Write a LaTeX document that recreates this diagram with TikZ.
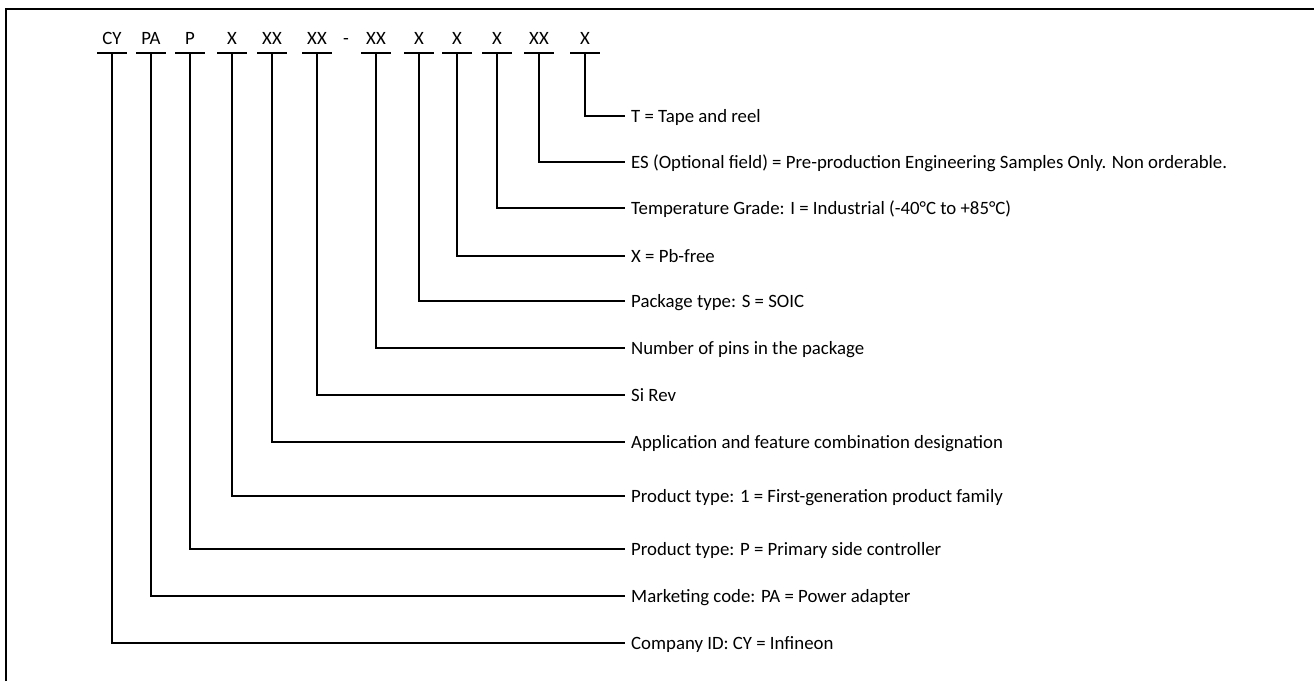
\documentclass[tikz,border=0pt]{standalone}
\usepackage{fontspec}
\setmainfont{Carlito}
\usetikzlibrary{positioning}

\begin{document}
\begin{tikzpicture}[
      x=1pt, y=-1pt,
      code/.style={anchor=south, font=\fontsize{18.8}{21}\selectfont, minimum width=29pt,
                   inner xsep=0pt, inner ysep=8pt, text depth=0pt},
      desc/.style={anchor=west, font=\fontsize{18.8}{21}\selectfont, inner xsep=6pt,
                   inner ysep=0pt, text height=12pt, text depth=0pt},
      lead/.style={line width=1.3pt},
      uline/.style={line width=1.3pt},
      frame/.style={line width=1.6pt}
    ]
    \useasboundingbox (0,0) rectangle (1314,681);
    \draw[frame] (6,681) -- (6,9) -- (1314,9);

    % part number fields
    \node[code] (cy)  at (112,53) {CY};
    \node[code] (pa)  at (151,53) {PA};
    \node[code] (p)   at (190,53) {P};
    \node[code] (gen) at (232,53) {X};
    \node[code] (app) at (272,53) {XX};
    \node[code] (rev) at (317,53) {XX};
    \node[code, minimum width=0pt] (sep) at (346,53) {-};
    \node[code] (pins) at (376,53) {XX};
    \node[code] (pkg) at (419,53) {X};
    \node[code] (pb)  at (457,53) {X};
    \node[code] (tmp) at (497,53) {X};
    \node[code] (es)  at (539,53) {XX};
    \node[code] (tr)  at (585,53) {X};
    \foreach \n in {cy,pa,p,gen,app,rev,pins,pkg,pb,tmp,es,tr}
      \draw[uline] (\n.south west) -- (\n.south east);

    % descriptions
    \node[desc] (dtr)   at (625,116) {T = Tape and reel};
    \node[desc] (des)   at (625,162) {ES (Optional field) = Pre-production Engineering Samples Only. Non orderable.};
    \node[desc] (dtmp)  at (625,208) {Temperature Grade: I = Industrial (-40°C to +85°C)};
    \node[desc] (dpb)   at (625,256) {X = Pb-free};
    \node[desc] (dpkg)  at (625,301) {Package type: S = SOIC};
    \node[desc] (dpins) at (625,348) {Number of pins in the package};
    \node[desc] (drev)  at (625,395) {Si Rev};
    \node[desc] (dapp)  at (625,442) {Application and feature combination designation};
    \node[desc] (dgen)  at (625,496) {Product type: 1 = First-generation product family};
    \node[desc] (dp)    at (625,549) {Product type: P = Primary side controller};
    \node[desc] (dpa)   at (625,596) {Marketing code: PA = Power adapter};
    \node[desc] (dcy)   at (625,643) {Company ID: CY = Infineon};

    \draw[lead] (tr.south) |- (dtr.west);
    \draw[lead] (es.south) |- (des.west);
    \draw[lead] (tmp.south) |- (dtmp.west);
    \draw[lead] (pb.south) |- (dpb.west);
    \draw[lead] (pkg.south) |- (dpkg.west);
    \draw[lead] (pins.south) |- (dpins.west);
    \draw[lead] (rev.south) |- (drev.west);
    \draw[lead] (app.south) |- (dapp.west);
    \draw[lead] (gen.south) |- (dgen.west);
    \draw[lead] (p.south) |- (dp.west);
    \draw[lead] (pa.south) |- (dpa.west);
    \draw[lead] (cy.south) |- (dcy.west);
  \end{tikzpicture}
\end{document}
